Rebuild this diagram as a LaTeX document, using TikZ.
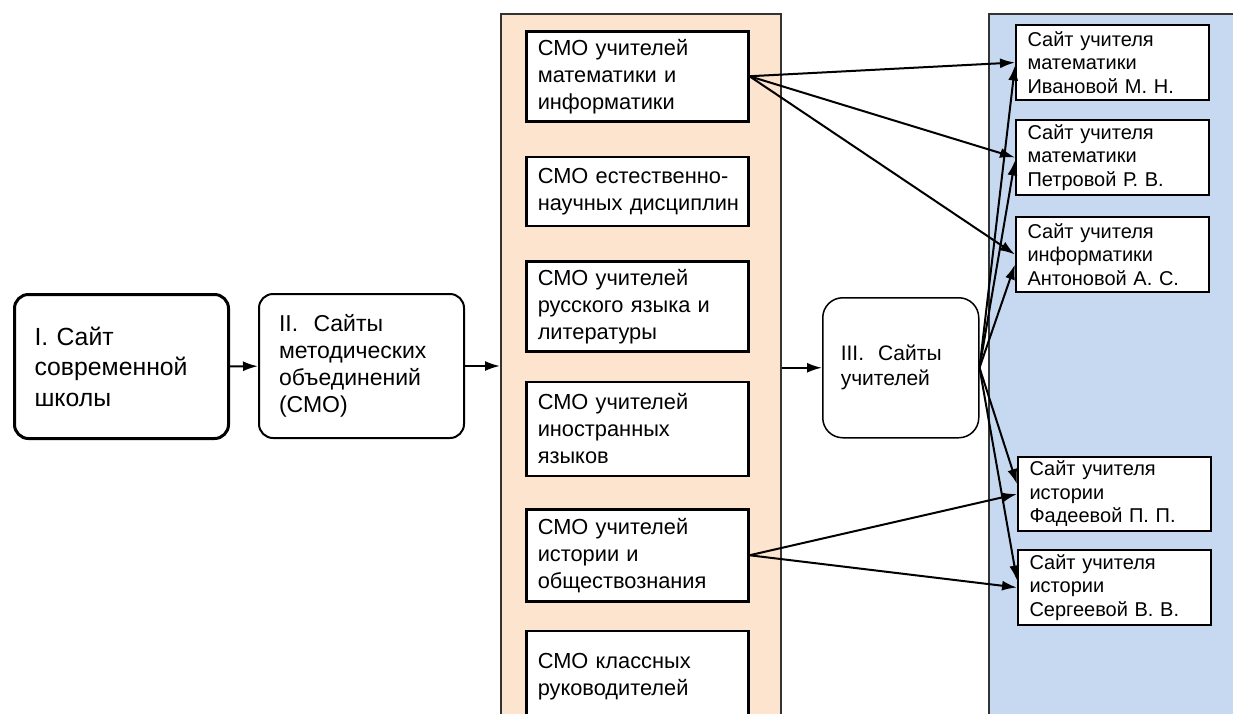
\documentclass[tikz,border=0pt]{standalone}
\usepackage{fontspec}
\setmainfont{Liberation Sans}
\usetikzlibrary{positioning, arrows.meta}
\definecolor{smofill}{HTML}{FCE4CE}
\definecolor{sitefill}{HTML}{C6D9F1}
\tikzset{
    >={Latex[length=15pt,width=10pt]}, % filled arrow heads
    stage/.style={rectangle, rounded corners=14pt, draw=black, line width=2pt, fill=white, align=left, anchor=north west, inner xsep=20pt, inner ysep=0pt},
    smo/.style={rectangle, draw=black, line width=2.5pt, fill=white, align=left, anchor=north west, text width=199pt, inner xsep=11.5pt, inner ysep=0pt, font=\fontsize{21.8}{27}\selectfont},
    site/.style={rectangle, draw=black, line width=2pt, fill=white, align=left, anchor=north west, text width=170pt, inner xsep=11.5pt, inner ysep=0pt, font=\fontsize{20}{23.5}\selectfont},
    panel/.style={rectangle, draw=black!80, line width=1.5pt, anchor=north west, inner sep=0pt},
    link/.style={->, line width=2pt},
}

\begin{document}
\begin{tikzpicture}[x=1pt, y=-1pt]
        \useasboundingbox (0,0) rectangle (1233,713);
        % Panels
        \node[panel, fill=smofill, minimum width=280pt, minimum height=710pt] (smopanel) at (500,13) {};
        \node[panel, fill=sitefill, minimum width=300pt, minimum height=710pt] (sitepanel) at (988,13) {};

        % Stages
        \node[stage, line width=3pt, text width=174pt, minimum height=144pt, font=\fontsize{24.8}{30.5}\selectfont] (I) at (13,293) {I. Сайт\\современной\\школы};
        \node[stage, text width=165pt, minimum height=144pt, font=\fontsize{23}{27}\selectfont] (II) at (258,293) {II.\ \ Сайты\\методических\\объединений\\(СМО)};
        \node[stage, rounded corners=20pt, line width=1.5pt, text width=120pt, inner xsep=18pt, minimum height=140pt, font=\fontsize{21}{25}\selectfont] (III) at (822,297) {III.\ \ Сайты\\учителей};

        % SMO boxes
        \node[smo, minimum height=90pt] (s1) at (525,30) {СМО учителей\\математики и\\информатики};
        \node[smo, minimum height=69pt, below=33pt of s1] (s2) {СМО естественно-\\научных~дисциплин};
        \node[smo, minimum height=90pt, below=33pt of s2] (s3) {СМО учителей\\русского языка и\\литературы};
        \node[smo, minimum height=94pt, below=28pt of s3] (s4) {СМО учителей\\иностранных\\языков};
        \node[smo, minimum height=92pt, below=31pt of s4] (s5) {СМО учителей\\истории и\\обществознания};
        \node[smo, minimum height=91pt, below=27pt of s5] (s6) {СМО классных\\руководителей};

        % Teacher sites
        \node[site, minimum height=75pt] (t1) at (1015,24) {Сайт учителя\\математики\\Ивановой М. Н.};
        \node[site, minimum height=75pt, below=18pt of t1] (t2) {Сайт учителя\\математики\\Петровой Р. В.};
        \node[site, minimum height=75pt, below=20pt of t2] (t3) {Сайт учителя\\информатики\\Антоновой А. С.};
        \node[site, minimum height=74pt] (t4) at (1017,456) {Сайт учителя\\истории\\Фадеевой П. П.};
        \node[site, minimum height=75pt, below=17pt of t4] (t5) {Сайт учителя\\истории\\Сергеевой В. В.};

        % Draw lines
        \draw[link] (I) -- (II);
        \draw[link] (II.east) -- (II.east -| smopanel.west);
        \draw[link] (III.west -| smopanel.east) -- (III.west);
        \foreach \t in {t1,t2,t3}
            \draw[link] (s1.east) -- (\t.west);
        \foreach \t in {t4,t5}
            \draw[link] (s5.east) -- (\t.west);
        \foreach \t/\dy in {t1/-3,t2/-3,t3/-10,t4/10,t5/7}
            \draw[link] (III.east) -- ([yshift=\dy pt]\t.west);
    \end{tikzpicture}
\end{document}
